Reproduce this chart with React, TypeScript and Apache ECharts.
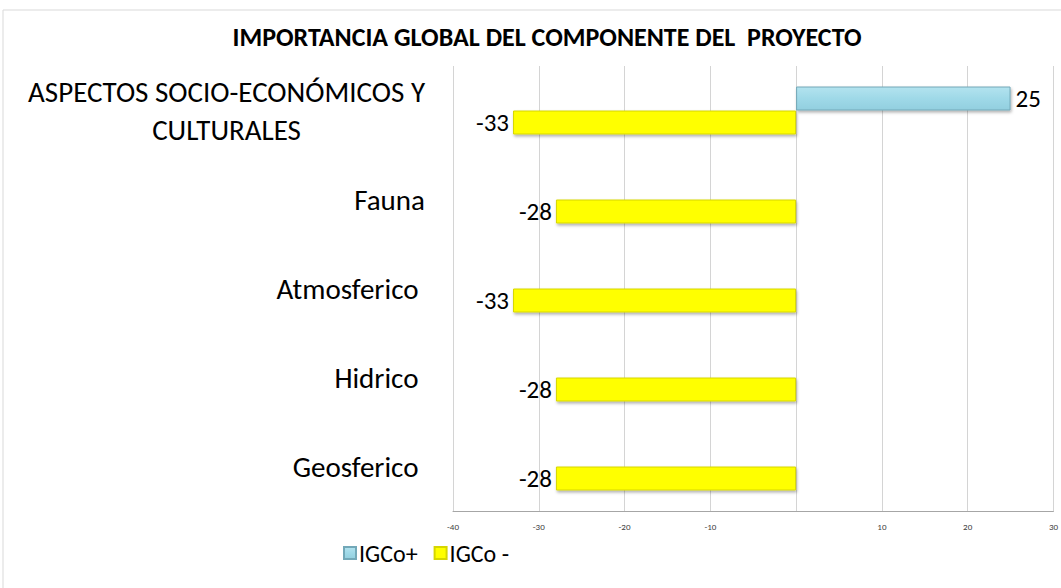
import React, { useEffect, useRef } from "react";
import * as echarts from "echarts";

const titleText = "IMPORTANCIA GLOBAL DEL COMPONENTE DEL  PROYECTO";
const categories = [
  "Geosferico ",
  "Hidrico ",
  "Atmosferico ",
  "Fauna",
  "ASPECTOS SOCIO-ECONÓMICOS Y\nCULTURALES",
];
const seriesNames = ["IGCo+", "IGCo -"];
const igcoPlus: (number | null)[] = [null, null, null, null, 25];
const igcoMinus: number[] = [-28, -28, -33, -28, -33];
const xMin = -40;
const xMax = 30;
const xInterval = 10;

const FONT = "Carlito, Calibri, Lato, sans-serif";

export default function App() {
  const ref = useRef<HTMLDivElement>(null);
  useEffect(() => {
    document.body.style.margin = "0";
    if (!ref.current) return;
    const chart = echarts.init(ref.current, null, { renderer: "svg" });
    const catFont = 29;
    const c = document.createElement("canvas").getContext("2d")!;
    c.font = `${catFont}px ${FONT}`;
    const maxLine = Math.max(
      ...categories.map((s) => Math.max(...s.split("\n").map((l) => c.measureText(l).width)))
    );
    chart.setOption({
      animation: false,
      textStyle: { fontFamily: FONT },
      title: {
        text: titleText,
        left: 542,
        top: 19,
        textAlign: "center",
        textStyle: { fontSize: 26, fontWeight: "bold", color: "#000", fontFamily: FONT },
      },
      graphic: [
        {
          type: "rect",
          shape: { x: 3, y: 10, width: 1100, height: 640 },
          style: { fill: "none", stroke: "#d9d9d9", lineWidth: 1 },
          silent: true,
          z: -10,
        },
      ],
      legend: {
        left: 338,
        top: 536,
        itemWidth: 12,
        itemHeight: 12,
        itemGap: 16,
        icon: "rect",
        textStyle: { fontSize: 24, color: "#000", fontFamily: FONT, padding: [0, 0, 0, -2] },
        data: seriesNames,
      },
      grid: { left: 453, right: 0, top: 66, bottom: 77, containLabel: false },
      xAxis: {
        type: "value",
        min: xMin,
        max: xMax,
        interval: xInterval,
        axisLine: { show: true, lineStyle: { color: "#a6a6a6" } },
        axisTick: { show: false },
        splitLine: { show: true, lineStyle: { color: "#d4d4d4" } },
        axisLabel: {
          fontSize: 9,
          color: "#404040",
          margin: 11,
          formatter: (v: number) => (v === 0 ? "" : String(v)),
        },
      },
      yAxis: {
        type: "category",
        data: categories,
        axisLine: { show: false },
        axisTick: { show: false },
        axisLabel: {
          margin: 28,
          formatter: (v: string) => {
            const parts = v.split("\n");
            if (parts.length === 1) return `{a|${v}}`;
            return parts.map((p) => `{c|${p}}`).join("\n");
          },
          rich: {
            a: { fontSize: catFont, color: "#000", fontFamily: FONT, lineHeight: 38 },
            c: {
              fontSize: catFont,
              color: "#000",
              fontFamily: FONT,
              lineHeight: 38,
              width: maxLine,
              align: "center",
            },
          },
        },
      },
      series: [
        {
          name: seriesNames[0],
          type: "bar",
          data: igcoPlus,
          barWidth: 24,
          barGap: "0%",
          itemStyle: {
            color: new echarts.graphic.LinearGradient(0, 0, 0, 1, [
              { offset: 0, color: "#b3e3ef" },
              { offset: 0.5, color: "#9fd9e8" },
              { offset: 1, color: "#92cfdf" },
            ]),
            borderColor: "#72a8b8",
            borderWidth: 1,
            shadowColor: "rgba(0,0,0,0.3)",
            shadowBlur: 3,
            shadowOffsetX: 1,
            shadowOffsetY: 2,
          },
          label: {
            show: true,
            position: "right",
            distance: 5,
            fontSize: 25,
            color: "#000",
            fontFamily: FONT,
          },
        },
        {
          name: seriesNames[1],
          type: "bar",
          data: igcoMinus,
          barWidth: 24,
          itemStyle: {
            color: "#ffff00",
            borderColor: "#d6d600",
            borderWidth: 1,
            shadowColor: "rgba(0,0,0,0.3)",
            shadowBlur: 3,
            shadowOffsetX: 1,
            shadowOffsetY: 2,
          },
          label: {
            show: true,
            position: "left",
            distance: 4,
            fontSize: 25,
            color: "#000",
            fontFamily: FONT,
          },
        },
      ],
    });
    return () => chart.dispose();
  }, []);
  return <div ref={ref} style={{ width: 1061, height: 588 }} />;
}
